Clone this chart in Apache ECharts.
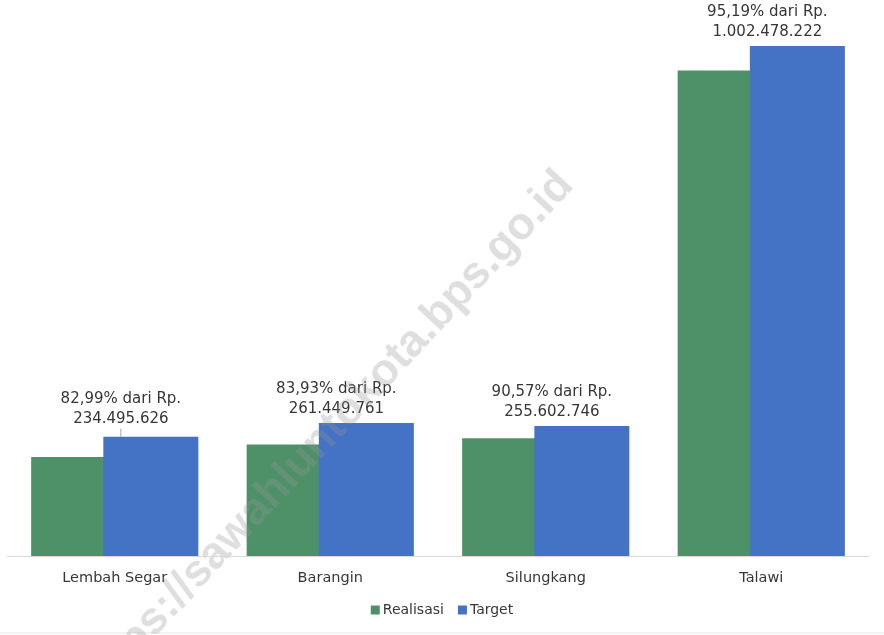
<!DOCTYPE html>
<html>
<head>
<meta charset="utf-8">
<script src="https://cdn.jsdelivr.net/npm/echarts@6/dist/echarts.min.js"></script>
<style>
  html, body { margin: 0; padding: 0; background: #fff; }
  #chart { width: 884px; height: 635px; }
</style>
</head>
<body>
<div id="chart"></div>
<script>
const categories = ["Lembah Segar", "Barangin", "Silungkang", "Talawi"];
const realisasi = [194607920, 219434784, 231499407, 954259020];
const target = [234495626, 261449761, 255602746, 1002478222];
const persen = ["82,99", "83,93", "90,57", "95,19"];

const GREEN = "#4e9169";
const BLUE = "#4472c4";
const TEXT = "#363636";
const FONT = "'DejaVu Sans', Verdana, sans-serif";

// format angka gaya Indonesia: 1.002.478.222
function rupiah(n) {
  return String(n).replace(/\B(?=(\d{3})+(?!\d))/g, ".");
}

const chart = echarts.init(document.getElementById("chart"), null, { renderer: "canvas" });

chart.setOption({
  backgroundColor: "#ffffff",
  animation: false,
  textStyle: { fontFamily: FONT },
  graphic: [
    {
      // watermark tipis, di atas batang
      type: "text",
      z: 3,
      x: 566,
      y: 178,
      rotation: 47 * Math.PI / 180,
      style: {
        text: "https://sawahluntokota.bps.go.id",
        fill: "rgba(150,150,150,0.3)",
        font: "bold 45px 'Liberation Sans', Arial, sans-serif",
        align: "right",
        verticalAlign: "middle"
      },
      silent: true
    },
    {
      type: "line",
      z: 0,
      shape: { x1: 0, y1: 633, x2: 884, y2: 633 },
      style: { stroke: "#e4e4e4", lineWidth: 1 },
      silent: true
    }
  ],
  legend: {
    data: ["Realisasi", "Target"],
    left: "center",
    top: 598,
    z: 5,
    icon: "rect",
    itemWidth: 9,
    itemHeight: 9,
    itemGap: 14,
    textStyle: { color: TEXT, fontSize: 14, fontFamily: FONT, padding: [0, 0, 0, -2] }
  },
  grid: { left: 7, right: 15, top: 0, bottom: 79 },
  xAxis: {
    type: "category",
    data: categories,
    z: 5,
    axisLine: { lineStyle: { color: "#d9d9d9", width: 1 } },
    axisTick: { show: false },
    axisLabel: { color: TEXT, fontSize: 14.5, fontFamily: FONT, margin: 15 }
  },
  yAxis: {
    type: "value",
    min: 0,
    max: 1093000000,
    show: false,
    splitLine: { show: false }
  },
  series: [
    {
      name: "Realisasi",
      type: "bar",
      data: realisasi,
      barWidth: 95,
      barGap: "-24%",
      itemStyle: { color: GREEN }
    },
    {
      name: "Target",
      type: "bar",
      data: target.map((v, i) => i === 0 ? { value: v, labelLine: { show: true } } : v),
      barWidth: 95,
      barGap: "-24%",
      itemStyle: { color: BLUE },
      label: {
        show: true,
        position: "top",
        distance: 4,
        color: TEXT,
        fontSize: 15,
        lineHeight: 20,
        fontFamily: FONT,
        align: "center",
        formatter: (p) => persen[p.dataIndex] + "% dari Rp.\n" + rupiah(target[p.dataIndex])
      },
      labelLayout: (p) => ({ dx: -30, dy: p.dataIndex === 0 ? -4 : 0 }),
      labelLine: {
        show: false,
        lineStyle: { color: "#a6a6a6", width: 1 }
      }
    }
  ]
});
</script>
</body>
</html>
